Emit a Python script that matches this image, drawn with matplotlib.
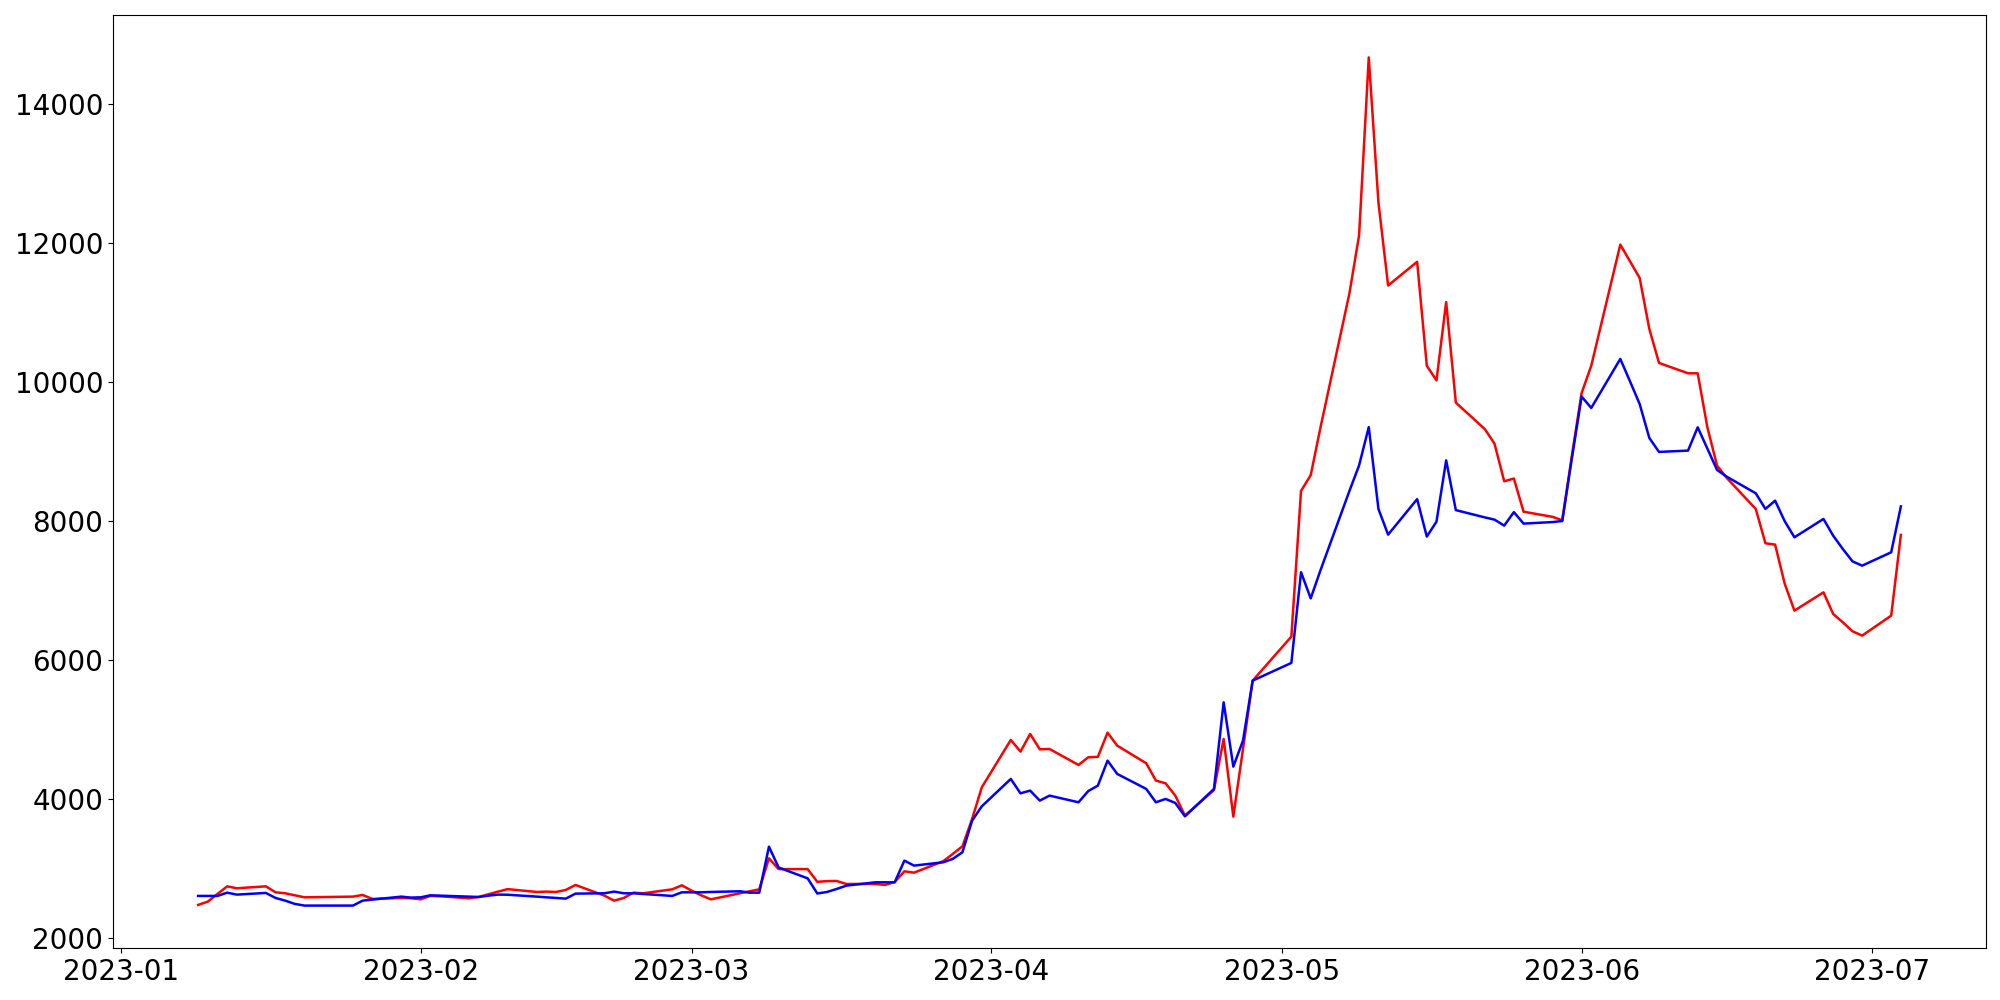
import pandas as pd
import matplotlib.pyplot as plt
import matplotlib.dates as mdates

# Datas (dias úteis) e valores
dates = [
    "2023-01-09", "2023-01-10", "2023-01-11", "2023-01-12", "2023-01-13",
    "2023-01-16", "2023-01-17", "2023-01-18", "2023-01-19", "2023-01-20",
    "2023-01-25", "2023-01-26", "2023-01-27", "2023-01-30", "2023-01-31",
    "2023-02-01", "2023-02-02", "2023-02-03", "2023-02-06", "2023-02-07",
    "2023-02-08", "2023-02-09", "2023-02-10", "2023-02-13", "2023-02-14",
    "2023-02-15", "2023-02-16", "2023-02-17", "2023-02-20", "2023-02-21",
    "2023-02-22", "2023-02-23", "2023-02-24", "2023-02-27", "2023-02-28",
    "2023-03-01", "2023-03-02", "2023-03-03", "2023-03-06", "2023-03-07",
    "2023-03-08", "2023-03-09", "2023-03-10", "2023-03-13", "2023-03-14",
    "2023-03-15", "2023-03-16", "2023-03-17", "2023-03-20", "2023-03-21",
    "2023-03-22", "2023-03-23", "2023-03-24", "2023-03-27", "2023-03-28",
    "2023-03-29", "2023-03-30", "2023-03-31", "2023-04-03", "2023-04-04",
    "2023-04-05", "2023-04-06", "2023-04-07", "2023-04-10", "2023-04-11",
    "2023-04-12", "2023-04-13", "2023-04-14", "2023-04-17", "2023-04-18",
    "2023-04-19", "2023-04-20", "2023-04-21", "2023-04-24", "2023-04-25",
    "2023-04-26", "2023-04-27", "2023-04-28", "2023-05-02", "2023-05-03",
    "2023-05-04", "2023-05-05", "2023-05-08", "2023-05-09", "2023-05-10",
    "2023-05-11", "2023-05-12", "2023-05-15", "2023-05-16", "2023-05-17",
    "2023-05-18", "2023-05-19", "2023-05-22", "2023-05-23", "2023-05-24",
    "2023-05-25", "2023-05-26", "2023-05-29", "2023-05-30", "2023-05-31",
    "2023-06-01", "2023-06-02", "2023-06-05", "2023-06-06", "2023-06-07",
    "2023-06-08", "2023-06-09", "2023-06-12", "2023-06-13", "2023-06-14",
    "2023-06-15", "2023-06-16", "2023-06-19", "2023-06-20", "2023-06-21",
    "2023-06-22", "2023-06-23", "2023-06-26", "2023-06-27", "2023-06-28",
    "2023-06-29", "2023-06-30", "2023-07-03", "2023-07-04",
]

red_values = [
    2478, 2525, 2635, 2745, 2717,
    2745, 2659, 2645, 2616, 2587,
    2597, 2621, 2564, 2578, 2573,
    2559, 2607, 2602, 2573, 2592,
    2630, 2669, 2705, 2664, 2669,
    2664, 2693, 2765, 2611, 2539,
    2578, 2654, 2645, 2702, 2760,
    2683, 2616, 2558, 2645, 2674,
    2702, 3148, 2993, 2993, 2810,
    2820, 2822, 2779, 2779, 2765,
    2808, 2961, 2942, 3105, 3211,
    3321, 3714, 4169, 4851, 4683,
    4937, 4716, 4721, 4491, 4601,
    4608, 4956, 4769, 4515, 4266,
    4227, 4050, 3762, 4131, 4865,
    3748, 4720, 5704, 6337, 8433,
    8660, 9339, 11274, 12110, 14669,
    12582, 11388, 11729, 10233, 10023,
    11149, 9703, 9322, 9112, 8572,
    8611, 8134, 8060, 8010, 8945,
    9840, 10235, 11976, 11736, 11497,
    10763, 10274, 10125, 10125, 9348,
    8797, 8620, 8174, 7680, 7661,
    7095, 6711, 6974, 6664, 6543,
    6414, 6352, 6639, 7800,
]

blue_values = [
    2607, 2607, 2607, 2654, 2626,
    2650, 2578, 2539, 2492, 2468,
    2468, 2539, 2554, 2597, 2583,
    2587, 2616, 2611, 2597, 2592,
    2611, 2626, 2624, 2597, 2587,
    2578, 2568, 2640, 2645, 2669,
    2645, 2645, 2635, 2607, 2659,
    2659, 2659, 2664, 2674, 2654,
    2654, 3316, 3016, 2860, 2642,
    2664, 2707, 2755, 2803, 2803,
    2803, 3115, 3043, 3091, 3139,
    3235, 3690, 3896, 4290, 4083,
    4122, 3978, 4050, 3954, 4115,
    4194, 4553, 4362, 4146, 3954,
    4002, 3945, 3752, 4146, 5392,
    4467, 4841, 5704, 5959, 7263,
    6887, 7288, 8432, 8800, 9351,
    8174, 7804, 8315, 7776, 7991,
    8873, 8157, 8052, 8020, 7934,
    8128, 7963, 7985, 8000, 8907,
    9790, 9627, 10332, 10010, 9684,
    9195, 8994, 9013, 9348, 9042,
    8735, 8638, 8399, 8174, 8293,
    7996, 7766, 8030, 7790, 7598,
    7420, 7358, 7550, 8210,
]

data = pd.DataFrame({
    "date": pd.to_datetime(dates),
    "red": red_values,
    "blue": blue_values,
})

fig = plt.figure(figsize=(20, 10), dpi=100)
ax = fig.add_subplot(111)
ax.plot(data["date"], data["red"], color="red", linewidth=1.8)
ax.plot(data["date"], data["blue"], color="blue", linewidth=1.8)

ax.xaxis.set_major_locator(mdates.MonthLocator())
ax.xaxis.set_major_formatter(mdates.DateFormatter("%Y-%m"))
ax.set_yticks([2000, 4000, 6000, 8000, 10000, 12000, 14000])
ax.tick_params(axis="both", labelsize=20)

fig.subplots_adjust(left=0.0565, right=0.993, top=0.985, bottom=0.052)
fig.savefig("out.png")
